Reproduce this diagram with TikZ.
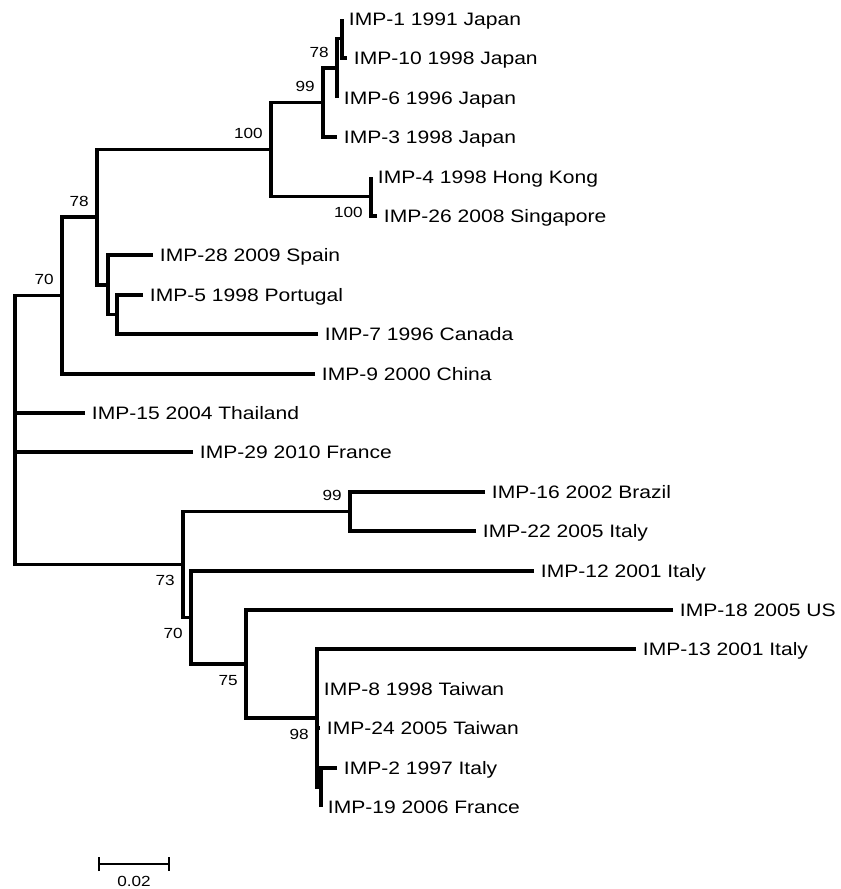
\documentclass[tikz,border=0pt]{standalone}
\usepackage{fontspec}
\setmainfont{Liberation Sans}[FakeStretch=1.17]
\usetikzlibrary{positioning,calc,arrows.meta}

\begin{document}
\begin{tikzpicture}[
    x=0.75pt, y=-0.75pt,
    branch/.style={line width=2.5pt, line join=miter},
    leaf/.style={inner sep=0pt, font=\fontsize{13.5}{16}\selectfont, text height=9.6pt, text depth=0pt},
    boot/.style={inner sep=0pt, font=\fontsize{11}{13}\selectfont, text height=7.8pt, text depth=0pt},
    scalebar/.style={line width=1.6pt, {Bar[width=10.5pt]}-{Bar[width=10.5pt]}}
]
    \useasboundingbox (0,0) rectangle (841,889);

    % tips
    \coordinate (imp1) at (342,19);
    \coordinate (imp10) at (347,58);
    \coordinate (imp6) at (337,98);
    \coordinate (imp3) at (337,137);
    \coordinate (imp4) at (371,177);
    \coordinate (imp26) at (377,216);
    \coordinate (imp28) at (153,255);
    \coordinate (imp5) at (143,295);
    \coordinate (imp7) at (318,334);
    \coordinate (imp9) at (315,374);
    \coordinate (imp15) at (85,413);
    \coordinate (imp29) at (193,452);
    \coordinate (imp16) at (485,492);
    \coordinate (imp22) at (476,531);
    \coordinate (imp12) at (534,571);
    \coordinate (imp18) at (673,610);
    \coordinate (imp13) at (636,649);
    \coordinate (imp8) at (317,689);
    \coordinate (imp24) at (320,728);
    \coordinate (imp2) at (337,768);
    \coordinate (imp19) at (321,807);

    % leaf labels
    \node[leaf, right=5pt of imp1] (imp1-lab) {IMP-1 1991 Japan};
    \node[leaf, right=5pt of imp10] (imp10-lab) {IMP-10 1998 Japan};
    \node[leaf, right=5pt of imp6] (imp6-lab) {IMP-6 1996 Japan};
    \node[leaf, right=5pt of imp3] (imp3-lab) {IMP-3 1998 Japan};
    \node[leaf, right=5pt of imp4] (imp4-lab) {IMP-4 1998 Hong Kong};
    \node[leaf, right=5pt of imp26] (imp26-lab) {IMP-26 2008 Singapore};
    \node[leaf, right=5pt of imp28] (imp28-lab) {IMP-28 2009 Spain};
    \node[leaf, right=5pt of imp5] (imp5-lab) {IMP-5 1998 Portugal};
    \node[leaf, right=5pt of imp7] (imp7-lab) {IMP-7 1996 Canada};
    \node[leaf, right=5pt of imp9] (imp9-lab) {IMP-9 2000 China};
    \node[leaf, right=5pt of imp15] (imp15-lab) {IMP-15 2004 Thailand};
    \node[leaf, right=5pt of imp29] (imp29-lab) {IMP-29 2010 France};
    \node[leaf, right=5pt of imp16] (imp16-lab) {IMP-16 2002 Brazil};
    \node[leaf, right=5pt of imp22] (imp22-lab) {IMP-22 2005 Italy};
    \node[leaf, right=5pt of imp12] (imp12-lab) {IMP-12 2001 Italy};
    \node[leaf, right=5pt of imp18] (imp18-lab) {IMP-18 2005 US};
    \node[leaf, right=5pt of imp13] (imp13-lab) {IMP-13 2001 Italy};
    \node[leaf, right=5pt of imp8] (imp8-lab) {IMP-8 1998 Taiwan};
    \node[leaf, right=5pt of imp24] (imp24-lab) {IMP-24 2005 Taiwan};
    \node[leaf, right=5pt of imp2] (imp2-lab) {IMP-2 1997 Italy};
    \node[leaf, right=5pt of imp19] (imp19-lab) {IMP-19 2006 France};

    % inner nodes
    \coordinate (jp12) at (342,38.5);
    \coordinate (jp) at (337,68);
    \coordinate (jpall) at (323,102.5);
    \coordinate (hk) at (371,196.5);
    \coordinate (asia) at (271,149.5);
    \coordinate (pt) at (117,314.5);
    \coordinate (ib) at (108,285);
    \coordinate (c78) at (97,217);
    \coordinate (c70) at (62,295.5);
    \coordinate (br) at (350,511.5);
    \coordinate (tw2) at (321,787.5);
    \coordinate (tw) at (317,718);
    \coordinate (c75) at (246,664);
    \coordinate (c70b) at (191,617.5);
    \coordinate (c73) at (183,564.5);
    \coordinate (root) at (15,430);

    % branches
    \draw[branch] (imp1) -| (jp12);
    \draw[branch] (imp10) -| (jp12);
    \draw[branch] (jp12) -| (jp);
    \draw[branch] (imp6) -| (jp);
    \draw[branch] (jp) -| (jpall);
    \draw[branch] (imp3) -| (jpall);
    \draw[branch] (imp4) -| (hk);
    \draw[branch] (imp26) -| (hk);
    \draw[branch] (jpall) -| (asia);
    \draw[branch] (hk) -| (asia);
    \draw[branch] (imp5) -| (pt);
    \draw[branch] (imp7) -| (pt);
    \draw[branch] (imp28) -| (ib);
    \draw[branch] (pt) -| (ib);
    \draw[branch] (asia) -| (c78);
    \draw[branch] (ib) -| (c78);
    \draw[branch] (c78) -| (c70);
    \draw[branch] (imp9) -| (c70);
    \draw[branch] (imp16) -| (br);
    \draw[branch] (imp22) -| (br);
    \draw[branch] (imp2) -| (tw2);
    \draw[branch] (imp19) -| (tw2);
    \draw[branch] (imp13) -| (tw);
    \draw[branch] (imp8) -| (tw);
    \draw[branch] (imp24) -| (tw);
    \draw[branch] (tw2) -| (tw);
    \draw[branch] (imp18) -| (c75);
    \draw[branch] (tw) -| (c75);
    \draw[branch] (imp12) -| (c70b);
    \draw[branch] (c75) -| (c70b);
    \draw[branch] (br) -| (c73);
    \draw[branch] (c70b) -| (c73);
    \draw[branch] (c70) -| (root);
    \draw[branch] (imp15) -| (root);
    \draw[branch] (imp29) -| (root);
    \draw[branch] (c73) -| (root);

    % bootstrap values
    \node[boot, above left=8pt and 6pt of jp] (bs-jp) {78};
    \node[boot, above left=8pt and 6pt of jpall] (bs-jpall) {99};
    \node[boot, above left=8pt and 6pt of asia] (bs-asia) {100};
    \node[boot, below left=8pt and 6pt of hk] (bs-hk) {100};
    \node[boot, above left=8pt and 6pt of c78] (bs-c78) {78};
    \node[boot, above left=8pt and 6pt of c70] (bs-c70) {70};
    \node[boot, above left=8pt and 6pt of br] (bs-br) {99};
    \node[boot, below left=8pt and 6pt of c73] (bs-c73) {73};
    \node[boot, below left=8pt and 6pt of c70b] (bs-c70b) {70};
    \node[boot, below left=8pt and 6pt of c75] (bs-c75) {75};
    \node[boot, below left=8pt and 6pt of tw] (bs-tw) {98};

    % scale bar
    \coordinate (sb0) at (98,864);
    \coordinate (sb1) at (170,864);
    \draw[scalebar] (sb0) -- (sb1);
    \node[boot, below=9pt of $(sb0)!0.5!(sb1)$] (sb-lab) {0.02};
\end{tikzpicture}
\end{document}
